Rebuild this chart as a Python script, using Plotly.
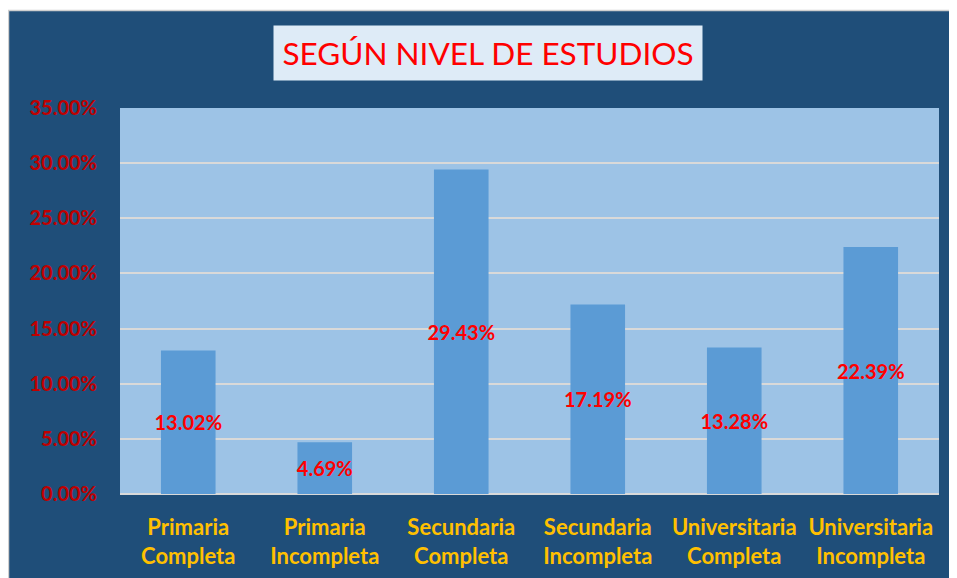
import plotly.graph_objects as go

# data
niveles = [
    "Primaria<br>Completa",
    "Primaria<br>Incompleta",
    "Secundaria<br>Completa",
    "Secundaria<br>Incompleta",
    "Universitaria<br>Completa",
    "Universitaria<br>Incompleta",
]
porcentajes = [0.1302, 0.0469, 0.2943, 0.1719, 0.1328, 0.2239]
etiquetas = ["13.02%", "4.69%", "29.43%", "17.19%", "13.28%", "22.39%"]

# the page body adds an 8px offset, so coordinates here are figure pixels
W, H = 957, 578
ML, MR, MT, MB = 112, 26, 100, 92
PW, PH = W - ML - MR, H - MT - MB

DARK = "#1F4E79"
FONT = "Lato"


def px_x(v):
    return (v - ML) / PW


def px_y(v):
    return (H - MB - v) / PH


fig = go.Figure(go.Bar(
    x=niveles,
    y=porcentajes,
    text=etiquetas,
    textposition="inside",
    insidetextanchor="middle",
    constraintext="none",
    textangle=0,
    textfont=dict(family=FONT, size=20, color="#FF0000", weight="bold"),
    marker=dict(color="#5B9BD5", line=dict(width=0)),
    width=0.4,
    hoverinfo="skip",
))

fig.update_layout(
    width=W, height=H,
    margin=dict(l=ML, r=MR, t=MT, b=MB),
    paper_bgcolor=DARK,
    plot_bgcolor="#9DC3E6",
    showlegend=False,
    font=dict(family=FONT),
    shapes=[
        dict(type="rect", xref="paper", yref="paper", layer="above",
             x0=px_x(-2), x1=px_x(W + 2), y0=px_y(2), y1=px_y(-2),
             fillcolor="white", line=dict(width=0)),
        dict(type="line", xref="paper", yref="paper", layer="above",
             x0=px_x(0), x1=px_x(W), y0=px_y(2.5), y1=px_y(2.5),
             line=dict(color="#CFCFCF", width=1.5)),
        dict(type="line", xref="paper", yref="paper", layer="above",
             x0=px_x(0.5), x1=px_x(0.5), y0=px_y(2), y1=px_y(H),
             line=dict(color="#CFCFCF", width=1.5)),
    ],
    annotations=[dict(
        text="SEGÚN NIVEL DE ESTUDIOS",
        xref="paper", yref="paper",
        x=px_x(480), y=px_y(45), xanchor="center", yanchor="middle",
        showarrow=False,
        font=dict(family=FONT, size=31.5, color="#FF0000"),
        bgcolor="#DEEBF7",
        width=426, height=52,
    )],
)

fig.update_xaxes(
    showgrid=False,
    showline=False,
    ticks="",
    tickfont=dict(family=FONT, size=22, color="#FFC000", weight="bold"),
    ticklabelstandoff=18,
)
fig.update_yaxes(
    range=[0, 0.35],
    dtick=0.05,
    tickformat=".2%",
    showgrid=True,
    gridcolor="#D9D9D9",
    gridwidth=1.5,
    zeroline=True,
    zerolinecolor="#D9D9D9",
    zerolinewidth=2,
    showline=False,
    ticks="",
    tickfont=dict(family=FONT, size=20, color="#C00000", weight="bold"),
    ticklabelstandoff=22,
)

fig.write_html("out.html")
